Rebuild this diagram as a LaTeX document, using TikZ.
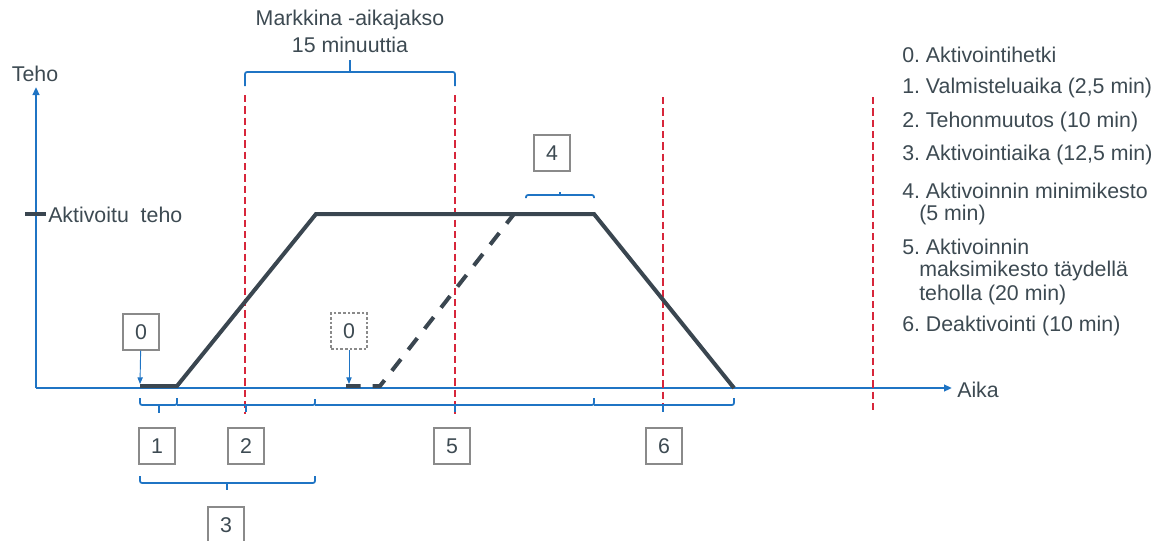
\documentclass[tikz,border=0pt]{standalone}
\usepackage{fontspec}
\setmainfont{Liberation Sans}
\usetikzlibrary{arrows.meta}
\definecolor{axblue}{HTML}{1F74C4}
\definecolor{redd}{HTML}{D7263B}
\definecolor{curvec}{HTML}{3A4650}
\definecolor{txt}{HTML}{3D4A52}
\definecolor{boxgray}{HTML}{8A8A8A}
\frenchspacing
\begin{document}
\begin{tikzpicture}[x=0.75pt,y=-0.75pt,
  every node/.style={text=txt, font=\fontsize{16}{19}\selectfont},
  numbox/.style={draw=boxgray, line width=0.8pt, minimum width=27pt, minimum height=27pt, inner sep=0pt, fill=white},
  axis/.style={draw=axblue, line width=1.5pt, -{Triangle[length=6pt,width=5pt]}},
  brk/.style={draw=axblue, line width=1.3pt, rounded corners=1.5pt},
  period/.style={draw=redd, line width=1.5pt, dash pattern=on 5.5pt off 3pt},
  pcurve/.style={draw=curvec, line width=3pt},
  pdash/.style={draw=curvec, line width=3pt, dash pattern=on 11pt off 9pt},
  pin/.style={draw=axblue, line width=0.7pt, -{Triangle[length=5pt,width=4pt]}},
  legend/.style={anchor=west, inner sep=0pt}]
\useasboundingbox (0,0) rectangle (1168,540);

% axes
\coordinate (O) at (36,388);
\coordinate (ytip) at (36,87);
\coordinate (xtip) at (952,388);
\draw[axis] (O) -- (ytip);
\draw[axis] (O) -- (xtip);
\node (teho) at (35,74) {Teho};
\node[anchor=west, inner sep=0pt] (aika) at (957,390) {Aika};
\coordinate (tickL) at (25,214);
\coordinate (tickR) at (46,214);
\draw[draw=curvec, line width=2.5pt] (tickL) -- (tickR);
\node[anchor=west, inner sep=0pt] (akt) at (48,215) {Aktivoitu\ \ teho};

% market period
\node (mk1) at (350,20) {Markkina -aikajakso};
\node (mk2) at (350,45) {15 minuuttia};
\draw[brk] (245,86) -- (245,72) -- (455,72) -- (455,86);
\draw[brk] (350,72) -- (350,60);

% red dashed lines
\foreach \xx/\yy in {245/95, 455/95, 663/97, 873/97}
  \draw[period] (\xx,\yy) -- (\xx,414);

% power curve
\coordinate (c0) at (140,386);
\coordinate (c1) at (177,386);
\coordinate (c2) at (316,214);
\coordinate (c3) at (594,214);
\coordinate (c4) at (734,388);
\draw[pcurve, line join=miter] (c0) -- (c1) -- (c2) -- (c3) -- (c4);
\coordinate (d0) at (346,386);
\coordinate (d1) at (380,386);
\coordinate (d2) at (514,214);
\draw[pdash] (d0) -- (d1) -- (d2);

% activation markers
\node[numbox] (b0) at (141,332) {0};
\coordinate (p0) at (140,384);
\draw[pin] (b0) -- (p0);
\node[numbox, dashed, dash pattern=on 2pt off 1.5pt] (b0d) at (349,331) {0};
\coordinate (p0d) at (349,384);
\draw[pin] (b0d) -- (p0d);

% bottom brackets
\draw[brk] (140,398) -- (140,405) -- (177,405) -- (177,398);
\draw[brk] (159,405) -- (159,413);
\draw[brk] (177,405) -- (315,405) -- (315,399);
\draw[brk] (246,405) -- (246,412);
\draw[brk] (315,405) -- (594,405) -- (594,398);
\draw[brk] (455,405) -- (455,412);
\draw[brk] (594,405) -- (734,405) -- (734,398);
\draw[brk] (663,405) -- (663,412);
\draw[brk] (140,476) -- (140,483) -- (315,483) -- (315,476);
\draw[brk] (227,483) -- (227,490);
\draw[brk] (526,198) -- (526,195) -- (594,195) -- (594,198);
\draw[brk] (560,195) -- (560,192);

\node[numbox] (b1) at (157,446) {1};
\node[numbox] (b2) at (246,446) {2};
\node[numbox] (b5) at (452,446) {5};
\node[numbox] (b6) at (664,446) {6};
\node[numbox] (b3) at (226,525) {3};
\node[numbox] (b4) at (552,153) {4};

% legend
\node[legend] (l0) at (902,55) {0. Aktivointihetki};
\node[legend] (l1) at (902,88) {1. Valmisteluaika (2,5 min)};
\node[legend] (l2) at (902,122) {2. Tehonmuutos (10 min)};
\node[legend] (l3) at (902,155) {3. Aktivointiaika (12,5 min)};
\node[legend] (l4) at (902,191) {4. Aktivoinnin minimikesto};
\node[legend] (l4b) at (919,215) {(5 min)};
\node[legend] (l5) at (902,247) {5. Aktivoinnin};
\node[legend] (l5b) at (919,271) {maksimikesto täydellä};
\node[legend] (l5c) at (919,295) {teholla (20 min)};
\node[legend] (l6) at (902,326) {6. Deaktivointi (10 min)};
\end{tikzpicture}
\end{document}
